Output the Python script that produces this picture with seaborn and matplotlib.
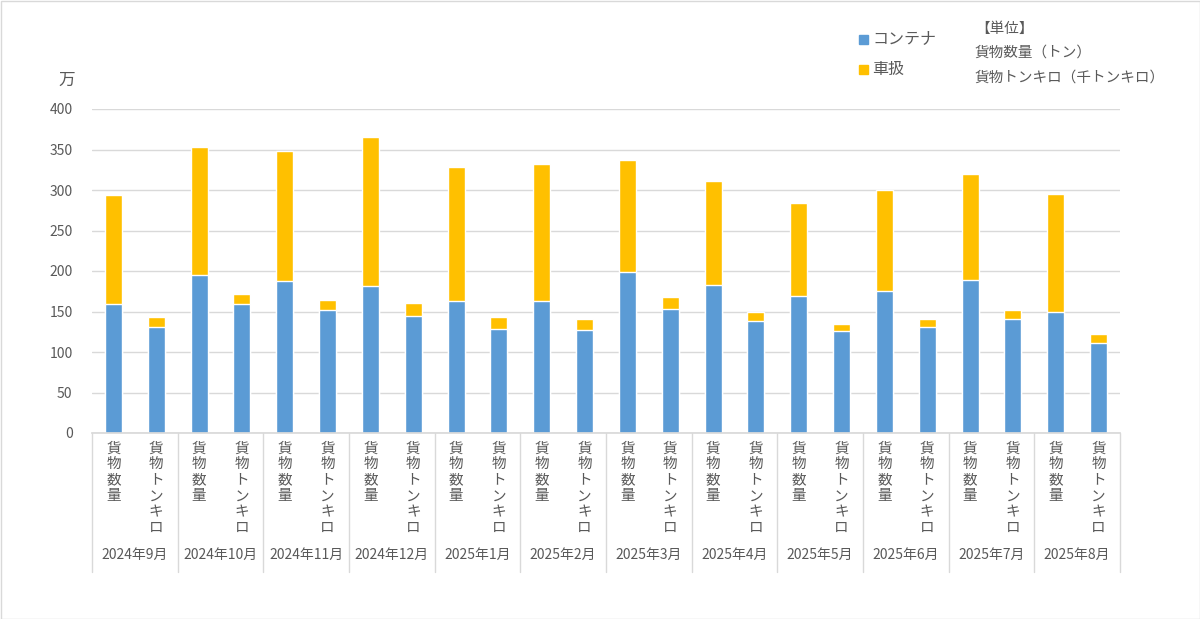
import matplotlib
matplotlib.use("Agg")
import matplotlib.pyplot as plt
import matplotlib.transforms as mtransforms
import seaborn as sns
import pandas as pd
import numpy as np

months = ["2024年9月", "2024年10月", "2024年11月", "2024年12月", "2025年1月", "2025年2月",
          "2025年3月", "2025年4月", "2025年5月", "2025年6月", "2025年7月", "2025年8月"]
kinds = ["貨物数量", "貨物トンキロ"]

# 万 units
qty_container = [159.6, 195.0, 187.6, 181.5, 162.5, 162.5, 198.3, 182.7, 169.1, 174.9, 188.9, 148.9]
qty_total     = [293.8, 352.7, 347.7, 365.0, 328.0, 332.5, 337.0, 310.7, 284.4, 300.0, 320.2, 295.5]
tk_container  = [131.3, 159.6, 151.8, 144.4, 128.4, 127.0, 153.1, 137.8, 125.5, 130.4, 141.2, 111.5]
tk_total      = [142.8, 172.0, 164.2, 160.9, 142.8, 141.2, 167.5, 148.9, 135.0, 140.7, 151.8, 122.6]

series_names = ["コンテナ", "車扱"]
y_ticks = [0, 50, 100, 150, 200, 250, 300, 350, 400]

rows = []
for i, m in enumerate(months):
    rows.append(dict(slot=f"{m}|{kinds[0]}", month=m, kind=kinds[0],
                     container=qty_container[i], total=qty_total[i]))
    rows.append(dict(slot=f"{m}|{kinds[1]}", month=m, kind=kinds[1],
                     container=tk_container[i], total=tk_total[i]))
df = pd.DataFrame(rows)

BLUE = "#5B9BD5"
YELLOW = "#FFC000"
TXT = "#595959"
GRID = "#D9D9D9"

sns.set_theme(style="white")
plt.rcParams['font.family'] = ['Noto Sans CJK JP', 'DejaVu Sans']

fig = plt.figure(figsize=(12, 6.19), dpi=100)
ax = fig.add_axes([92/1200, 1 - 433/619, (1120-92)/1200, (433-109)/619])

sns.barplot(data=df, x="slot", y="total", color=YELLOW, width=0.4, ax=ax,
            saturation=1, order=df["slot"])
sns.barplot(data=df, x="slot", y="container", color=BLUE, width=0.4, ax=ax,
            saturation=1, order=df["slot"])

ax.set_xlim(-0.5, len(df) - 0.5)
ax.set_ylim(0, 400)
ax.set_yticks(y_ticks)
ax.set_yticklabels([str(v) for v in y_ticks], color=TXT, fontsize=10)
ax.yaxis.grid(True, color=GRID, linewidth=1)
ax.set_axisbelow(True)
for s in ["top", "right", "left"]:
    ax.spines[s].set_visible(False)
ax.spines["bottom"].set_color(GRID)
ax.tick_params(axis="y", length=0, pad=14)
ax.tick_params(axis="x", length=0, pad=6)
ax.set_xlabel("")
ax.set_ylabel("")

ax.set_xticks(range(len(df)))
ax.set_xticklabels(["\n".join(k) for k in df["kind"]], color=TXT, fontsize=10.5,
                   linespacing=1.18, va="top")

trans = mtransforms.blended_transform_factory(ax.transData, ax.transAxes)
sep_bottom = -(572 - 433) / 324
for g in range(len(months) + 1):
    x = g * 2 - 0.5
    ax.plot([x, x], [0, sep_bottom], transform=trans, color=GRID, lw=1, clip_on=False)
for g, m in enumerate(months):
    ax.text(g * 2 + 0.5, -(555 - 433) / 324, m, transform=trans, ha="center", va="center",
            color=TXT, fontsize=10)

fig.text(67/1200, 1 - 80/619, "万", ha="center", va="center", color=TXT, fontsize=12)

# legend
fig.patches.append(plt.Rectangle((859/1200, 1 - 44/619), 9/1200, 9/619, color=BLUE,
                                 transform=fig.transFigure, figure=fig))
fig.text(872/1200, 1 - 39/619, series_names[0], ha="left", va="center", color=TXT, fontsize=11.5)
fig.patches.append(plt.Rectangle((859/1200, 1 - 74/619), 9/1200, 9/619, color=YELLOW,
                                 transform=fig.transFigure, figure=fig))
fig.text(872/1200, 1 - 69/619, series_names[1], ha="left", va="center", color=TXT, fontsize=11.5)

fig.text(975/1200, 1 - 29/619, "【単位】", ha="left", va="center", color=TXT, fontsize=10.5)
fig.text(975/1200, 1 - 53/619, "貨物数量（トン）", ha="left", va="center", color=TXT, fontsize=10.5)
fig.text(975/1200, 1 - 78/619, "貨物トンキロ（千トンキロ）", ha="left", va="center", color=TXT, fontsize=10.5)

fig.patches.append(plt.Rectangle((0.5/1200, 0.5/619), 1 - 1/1200, 1 - 1/619, fill=False,
                                 edgecolor=GRID, lw=1, transform=fig.transFigure, figure=fig))

fig.savefig("out.png", dpi=100)
